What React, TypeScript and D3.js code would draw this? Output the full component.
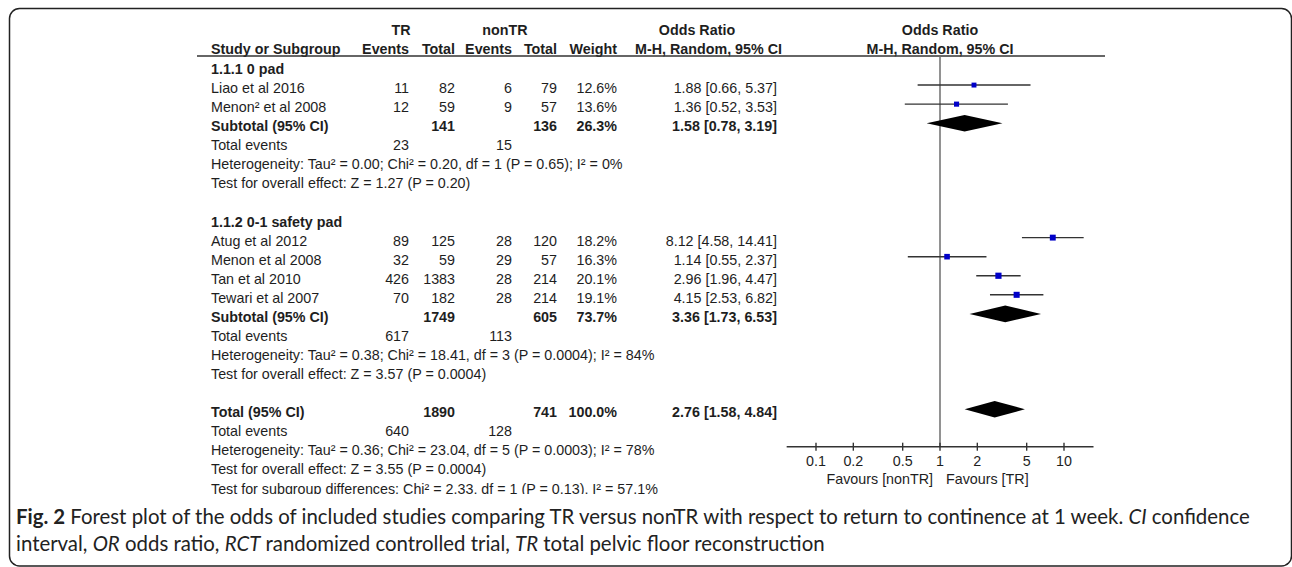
import * as d3 from "d3";

// study level data
const studyNames = [
  "Liao et al 2016",
  "Menon² et al 2008",
  "Atug et al 2012",
  "Menon et al 2008",
  "Tan et al 2010",
  "Tewari et al 2007",
];
const studyGroup = [0, 0, 1, 1, 1, 1];
const trEvents = [11, 12, 89, 32, 426, 70];
const trTotals = [82, 59, 125, 59, 1383, 182];
const nonEvents = [6, 9, 28, 29, 28, 28];
const nonTotals = [79, 57, 120, 57, 214, 214];
const weights = [12.6, 13.6, 18.2, 16.3, 20.1, 19.1];
const oddsRatio = [1.88, 1.36, 8.12, 1.14, 2.96, 4.15];
const ciLow = [0.66, 0.52, 4.58, 0.55, 1.96, 2.53];
const ciHigh = [5.37, 3.53, 14.41, 2.37, 4.47, 6.82];

// subgroup data
const groupTitles = ["1.1.1 0 pad", "1.1.2 0-1 safety pad"];
const subTrTotal = [141, 1749];
const subNonTotal = [136, 605];
const subWeight = [26.3, 73.7];
const subOR = [1.58, 3.36];
const subLow = [0.78, 1.73];
const subHigh = [3.19, 6.53];
const subTrEvents = [23, 617];
const subNonEvents = [15, 113];
const subHeterogeneity = [
  "Heterogeneity: Tau² = 0.00; Chi² = 0.20, df = 1 (P = 0.65); I² = 0%",
  "Heterogeneity: Tau² = 0.38; Chi² = 18.41, df = 3 (P = 0.0004); I² = 84%",
];
const subOverall = [
  "Test for overall effect: Z = 1.27 (P = 0.20)",
  "Test for overall effect: Z = 3.57 (P = 0.0004)",
];

// overall
const totalTr = 1890;
const totalNon = 741;
const totalWeight = 100.0;
const totalOR = [2.76, 1.58, 4.84];
const totalTrEvents = 640;
const totalNonEvents = 128;
const totalHeterogeneity =
  "Heterogeneity: Tau² = 0.36; Chi² = 23.04, df = 5 (P = 0.0003); I² = 78%";
const totalOverall = "Test for overall effect: Z = 3.55 (P = 0.0004)";
const subgroupDiff =
  "Test for subgroup differences: Chi² = 2.33, df = 1 (P = 0.13), I² = 57.1%";

const axisTicks = [0.1, 0.2, 0.5, 1, 2, 5, 10];
const axisExtent = [0.058, 17.3];

interface Row {
  label: string;
  bold?: boolean;
  cells?: string[];
  orText?: string;
  box?: { or: number; lo: number; hi: number; w: number };
  diamond?: { or: number; lo: number; hi: number };
}

const fmtCI = (o: number, l: number, h: number) =>
  `${o.toFixed(2)} [${l.toFixed(2)}, ${h.toFixed(2)}]`;

function buildRows(): Row[] {
  const rows: Row[] = [];
  groupTitles.forEach((title, g) => {
    rows.push({ label: title, bold: true });
    studyNames.forEach((name, i) => {
      if (studyGroup[i] !== g) return;
      rows.push({
        label: name,
        cells: [
          String(trEvents[i]),
          String(trTotals[i]),
          String(nonEvents[i]),
          String(nonTotals[i]),
          `${weights[i].toFixed(1)}%`,
        ],
        orText: fmtCI(oddsRatio[i], ciLow[i], ciHigh[i]),
        box: { or: oddsRatio[i], lo: ciLow[i], hi: ciHigh[i], w: weights[i] },
      });
    });
    rows.push({
      label: "Subtotal (95% CI)",
      bold: true,
      cells: ["", String(subTrTotal[g]), "", String(subNonTotal[g]), `${subWeight[g].toFixed(1)}%`],
      orText: fmtCI(subOR[g], subLow[g], subHigh[g]),
      diamond: { or: subOR[g], lo: subLow[g], hi: subHigh[g] },
    });
    rows.push({
      label: "Total events",
      cells: [String(subTrEvents[g]), "", String(subNonEvents[g]), "", ""],
    });
    rows.push({ label: subHeterogeneity[g] });
    rows.push({ label: subOverall[g] });
    rows.push({ label: "" });
  });
  rows.push({
    label: "Total (95% CI)",
    bold: true,
    cells: ["", String(totalTr), "", String(totalNon), `${totalWeight.toFixed(1)}%`],
    orText: fmtCI(totalOR[0], totalOR[1], totalOR[2]),
    diamond: { or: totalOR[0], lo: totalOR[1], hi: totalOR[2] },
  });
  rows.push({
    label: "Total events",
    cells: [String(totalTrEvents), "", String(totalNonEvents), "", ""],
  });
  rows.push({ label: totalHeterogeneity });
  rows.push({ label: totalOverall });
  rows.push({ label: subgroupDiff });
  return rows;
}

export default function App() {
  const width = 1292;
  const height = 567;
  const rows = buildRows();

  const x = d3.scaleLog().domain([0.1, 10]).range([816, 1064]);
  const rowY = d3.scaleLinear().domain([0, rows.length - 1]).range([74, 493.5]);
  const boxSize = d3.scaleSqrt().domain([0, 20.1]).range([0, 6.2]);

  const labelX = 211;
  const cellX = [409, 455, 512, 557, 617];
  const orX = 777;
  const axisY = 446.7;
  const headerLineY = 56;
  const ink = "#1e1e1e";
  const font = "'Liberation Sans', Arial, sans-serif";
  const markOffset = 8;

  const diamondPath = (o: number, l: number, h: number, y: number) => {
    const p = d3.path();
    p.moveTo(x(l), y);
    p.lineTo(x(o), y - 8.3);
    p.lineTo(x(h), y);
    p.lineTo(x(o), y + 8.3);
    p.closePath();
    return p.toString();
  };

  return (
    <svg
      width={width}
      height={height}
      style={{ position: "absolute", left: 0, top: 0, background: "#fff" }}
      fontFamily={font}
      fontSize={14.3}
      fill={ink}
    >
      <defs>
        <clipPath id="plotClip">
          <rect x={0} y={0} width={width} height={494} />
        </clipPath>
      </defs>

      <rect
        x={9.5}
        y={8.5}
        width={1282}
        height={557.5}
        rx={10}
        fill="none"
        stroke="#222"
        strokeWidth={1.5}
      />

      <g clipPath="url(#plotClip)">
        {/* headers */}
        <g fontWeight="bold">
          <text x={401} y={35} textAnchor="middle">TR</text>
          <text x={505} y={35} textAnchor="middle">nonTR</text>
          <text x={697} y={35} textAnchor="middle">Odds Ratio</text>
          <text x={940} y={35} textAnchor="middle">Odds Ratio</text>
          <text x={labelX} y={54}>Study or Subgroup</text>
          {["Events", "Total", "Events", "Total", "Weight"].map((h, i) => (
            <text key={i} x={cellX[i]} y={54} textAnchor="end">{h}</text>
          ))}
          <text x={782} y={54} textAnchor="end">M-H, Random, 95% CI</text>
          <text x={940} y={54} textAnchor="middle">M-H, Random, 95% CI</text>
        </g>
        <line x1={197} x2={1105} y1={headerLineY} y2={headerLineY} stroke="#333" strokeWidth={1.4} />

        {/* reference line */}
        <line x1={x(1)} x2={x(1)} y1={headerLineY} y2={axisY} stroke="#6e6e6e" strokeWidth={1.5} />

        {/* rows */}
        {rows.map((r, i) => {
          const y = rowY(i);
          const ym = y - markOffset;
          return (
            <g key={i} fontWeight={r.bold ? "bold" : "normal"}>
              <text x={labelX} y={y}>{r.label}</text>
              {r.cells?.map((c, j) => (
                <text key={j} x={cellX[j]} y={y} textAnchor="end">{c}</text>
              ))}
              {r.orText && (
                <text x={orX} y={y} textAnchor="end">{r.orText}</text>
              )}
              {r.box && (
                <g>
                  <line
                    x1={x(r.box.lo)}
                    x2={x(r.box.hi)}
                    y1={ym}
                    y2={ym}
                    stroke="#333"
                    strokeWidth={1.4}
                  />
                  <rect
                    x={x(r.box.or) - boxSize(r.box.w) / 2}
                    y={ym - boxSize(r.box.w) / 2}
                    width={boxSize(r.box.w)}
                    height={boxSize(r.box.w)}
                    fill="#0000c8"
                  />
                </g>
              )}
              {r.diamond && (
                <path d={diamondPath(r.diamond.or, r.diamond.lo, r.diamond.hi, ym)} fill="#000" />
              )}
            </g>
          );
        })}

        {/* axis */}
        <line
          x1={x(axisExtent[0])}
          x2={x(axisExtent[1])}
          y1={axisY}
          y2={axisY}
          stroke="#333"
          strokeWidth={1.4}
        />
        {axisTicks.map((t) => (
          <g key={t}>
            <line x1={x(t)} x2={x(t)} y1={axisY - 4} y2={axisY + 4} stroke="#333" strokeWidth={1.4} />
            <text x={x(t)} y={466} textAnchor="middle">{d3.format("~g")(t)}</text>
          </g>
        ))}
        <text x={x(1) - 7} y={484} textAnchor="end">Favours [nonTR]</text>
        <text x={x(1) + 6} y={484}>Favours [TR]</text>
      </g>

      {/* caption */}
      <g fontFamily="Lato, 'Open Sans', sans-serif" fontSize={20.4} fill="#222">
        <text x={16} y={524}>
          <tspan fontWeight="bold">Fig. 2</tspan>
          <tspan> Forest plot of the odds of included studies comparing TR versus nonTR with respect to return to continence at 1 week. </tspan>
          <tspan fontStyle="italic">CI</tspan>
          <tspan> confidence</tspan>
        </text>
        <text x={16} y={551}>
          <tspan>interval, </tspan>
          <tspan fontStyle="italic">OR</tspan>
          <tspan> odds ratio, </tspan>
          <tspan fontStyle="italic">RCT</tspan>
          <tspan> randomized controlled trial, </tspan>
          <tspan fontStyle="italic">TR</tspan>
          <tspan> total pelvic floor reconstruction</tspan>
        </text>
      </g>
    </svg>
  );
}
